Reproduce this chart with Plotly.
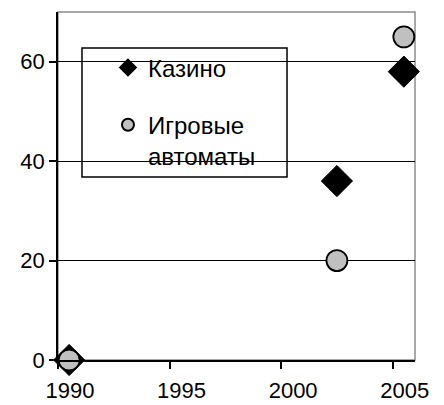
import plotly.graph_objects as go

# Data
casino_years = [1990, 2002, 2005]
casino_values = [0, 36, 58]
slots_years = [1990, 2002, 2005]
slots_values = [0, 20, 65]

x_tick_labels = [1990, 1995, 2000, 2005]
y_tick_values = [0, 20, 40, 60]

FONT = "Liberation Sans, Arial, sans-serif"

fig = go.Figure()
fig.add_trace(go.Scatter(
    x=casino_years, y=casino_values, mode="markers", name="Казино",
    legendgroup="a",
    marker=dict(symbol="diamond", size=24, color="black",
                line=dict(color="black", width=1)),
    cliponaxis=False,
))
fig.add_trace(go.Scatter(
    x=slots_years, y=slots_values, mode="markers", name="Игровые<br>автоматы",
    legendgroup="b",
    marker=dict(symbol="circle", size=21, color="#C0C0C0",
                line=dict(color="black", width=1.8)),
    cliponaxis=False,
))

# legend box
fig.add_shape(type="rect", xref="paper", yref="paper",
              x0=0.0672, x1=0.6415, y0=0.5259, y1=0.8966,
              line=dict(color="black", width=1.5), fillcolor="white",
              layer="between")
# plot area border (gray)
fig.add_shape(type="rect", xref="paper", yref="paper",
              x0=0, x1=1, y0=0, y1=1,
              line=dict(color="#8c8c8c", width=1.5), layer="below")

fig.update_layout(
    width=436, height=397,
    margin=dict(l=50, r=29, t=4, b=45),
    paper_bgcolor="white", plot_bgcolor="white",
    font=dict(family=FONT, size=22, color="black"),
    showlegend=True,
    legend=dict(x=0.14, y=0.904, xanchor="left", yanchor="top",
                bgcolor="rgba(0,0,0,0)", borderwidth=0,
                font=dict(family=FONT, size=24, color="black"),
                itemsizing="constant", valign="top",
                tracegroupgap=23),
)
fig.update_xaxes(
    range=[1989.5, 2005.5],
    tickvals=[v - 0.5 for v in x_tick_labels],
    ticktext=[str(v) for v in x_tick_labels],
    ticklabelshift=12,
    ticklabelstandoff=3,
    automargin=False,
    ticks="outside", ticklen=7, tickwidth=1.5, tickcolor="black",
    showline=True, linecolor="black", linewidth=1.8,
    showgrid=False, zeroline=False,
)
fig.update_yaxes(
    range=[0, 70],
    tickvals=y_tick_values,
    automargin=False,
    ticks="outside", ticklen=7, tickwidth=1.5, tickcolor="black",
    showline=True, linecolor="black", linewidth=1.8,
    showgrid=True, gridcolor="black", gridwidth=1.3,
    zeroline=False,
)

fig.write_html("out.html")
